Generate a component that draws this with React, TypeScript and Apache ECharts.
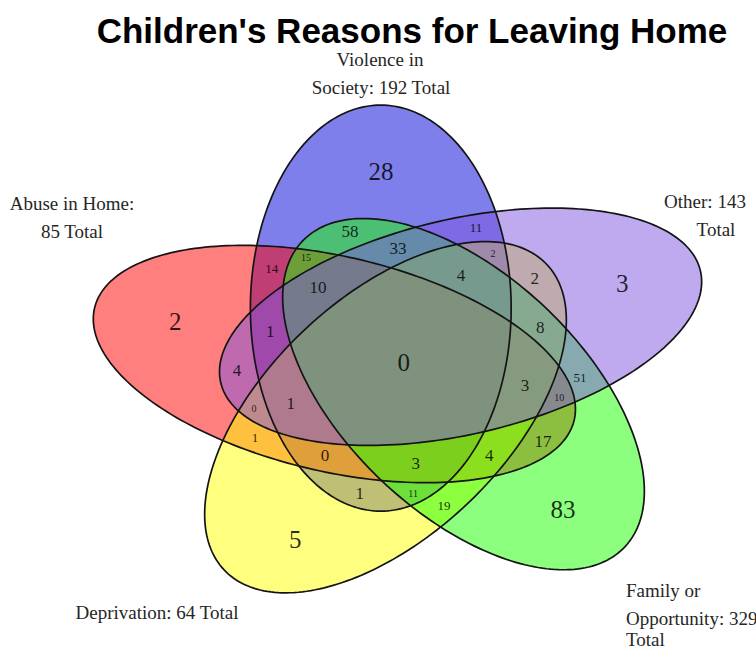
import React, { useEffect, useRef } from "react";
import * as echarts from "echarts";

// ---- data ----
const titleText = "Children's Reasons for Leaving Home";
const setNames = ["Violence in Society", "Abuse in Home", "Deprivation", "Family or Opportunity", "Other"];
const setTotals = [192, 85, 64, 329, 143];
const setColors = ["#0000d8", "#ff0000", "#ffff00", "#1aff00", "#7f55e0"];

// ellipse geometry (Venn units, 0..1 box)
const ellipseCenterX = [0.4555, 0.3701, 0.4642, 0.6078, 0.6024];
const ellipseCenterY = [0.6222, 0.4955, 0.375, 0.4273, 0.58];
const ellipseRotation = [90, 162, 54, -54, 18];
const ellipseSemiMajor = 0.46;
const ellipseSemiMinor = 0.24;

// region counts
const regionCounts = [28, 58, 11, 14, 15, 33, 2, 4, 2, 10, 3, 2, 1, 8, 0, 4, 51, 3, 10, 1, 0, 1, 17, 0, 4, 3, 1, 11, 19, 83, 5];
// region label anchor positions (Venn units)
const regionX = [0.456, 0.399, 0.631, 0.255, 0.318, 0.487, 0.662, 0.603, 0.739, 0.34, 0.9, 0.077, 0.252, 0.749, 0.498, 0.191, 0.822, 0.721, 0.784, 0.29, 0.222, 0.224, 0.754, 0.353, 0.655, 0.52, 0.417, 0.515, 0.572, 0.791, 0.298];
const regionY = [0.931, 0.795, 0.804, 0.713, 0.736, 0.758, 0.747, 0.695, 0.69, 0.668, 0.677, 0.591, 0.57, 0.579, 0.498, 0.48, 0.466, 0.446, 0.419, 0.405, 0.394, 0.33, 0.321, 0.289, 0.289, 0.271, 0.203, 0.203, 0.176, 0.165, 0.097];

// ---- styles ----
const SIZE = { L: 25, M: 17, S: 13, T: 10 };
const regionSizeClass = ["L", "M", "S", "S", "T", "M", "T", "M", "M", "M", "L", "L", "M", "M", "L", "M", "S", "M", "T", "M", "T", "S", "M", "M", "M", "M", "M", "T", "S", "L", "L"];

function hexToRgba(hex: string, a: number) {
  const n = parseInt(hex.slice(1), 16);
  return `rgba(${(n >> 16) & 255},${(n >> 8) & 255},${n & 255},${a})`;
}

export default function App() {
  const ref = useRef<HTMLDivElement>(null);
  useEffect(() => {
    if (!ref.current) return;
    const chart = echarts.init(ref.current, null, { renderer: "svg" });

    const ellipseData = ellipseCenterX.map((x, i) => [x, ellipseCenterY[i], ellipseRotation[i], i]);

    const makeEllipse = (filled: boolean) => (params: any, api: any) => {
      const cx = api.value(0);
      const cy = api.value(1);
      const rot = (api.value(2) * Math.PI) / 180;
      const idx = api.value(3);
      const pts: number[][] = [];
      const N = 240;
      for (let k = 0; k < N; k++) {
        const t = (k / N) * Math.PI * 2;
        const ex = ellipseSemiMajor * Math.cos(t);
        const ey = ellipseSemiMinor * Math.sin(t);
        const x = cx + ex * Math.cos(rot) - ey * Math.sin(rot);
        const y = cy + ex * Math.sin(rot) + ey * Math.cos(rot);
        pts.push(api.coord([x, y]));
      }
      return {
        type: "polygon",
        shape: { points: pts },
        style: filled
          ? { fill: hexToRgba(setColors[idx], 0.5), stroke: null }
          : { fill: null, stroke: "#141414", lineWidth: 1.7 },
        silent: true,
      };
    };

    const labelData = regionCounts.map((c, i) => [regionX[i], regionY[i], c, SIZE[regionSizeClass[i] as keyof typeof SIZE]]);

    const catFont = { fontFamily: "Liberation Serif", fontSize: 19, fill: "#262626" };
    const catLines: { text: string; x: number; y: number; align: string }[] = [
      { text: "Violence in", x: 380, y: 59, align: "center" },
      { text: `Society: ${setTotals[0]} Total`, x: 381, y: 87, align: "center" },
      { text: "Abuse in Home:", x: 72, y: 203, align: "center" },
      { text: `${setTotals[1]} Total`, x: 72, y: 231, align: "center" },
      { text: `${setNames[2]}: ${setTotals[2]} Total`, x: 157, y: 612, align: "center" },
      { text: "Family or", x: 626, y: 590, align: "left" },
      { text: `Opportunity: ${setTotals[3]}`, x: 626, y: 618, align: "left" },
      { text: "Total", x: 626, y: 639, align: "left" },
      { text: `${setNames[4]}: ${setTotals[4]}`, x: 705, y: 201, align: "center" },
      { text: "Total", x: 716, y: 229, align: "center" },
    ];

    chart.setOption({
      animation: false,
      backgroundColor: "#ffffff",
      grid: { left: 133.3, top: 141.4, width: 543.3, height: 441.3 },
      xAxis: { type: "value", min: 0, max: 1, show: false },
      yAxis: { type: "value", min: 0, max: 1, show: false },
      graphic: [
        {
          type: "text",
          x: 412,
          y: 30,
          style: {
            text: titleText,
            fontFamily: "Liberation Sans",
            fontWeight: "bold",
            fontSize: 35,
            fill: "#000",
            align: "center",
            verticalAlign: "middle",
          },
        },
        ...catLines.map((l) => ({
          type: "text",
          x: l.x,
          y: l.y,
          style: { ...catFont, text: l.text, align: l.align, verticalAlign: "middle" },
        })),
      ],
      series: [
        {
          type: "custom",
          coordinateSystem: "cartesian2d",
          clip: false,
          z: 2,
          data: ellipseData,
          renderItem: makeEllipse(true),
        },
        {
          type: "custom",
          coordinateSystem: "cartesian2d",
          clip: false,
          z: 3,
          data: ellipseData,
          renderItem: makeEllipse(false),
        },
        {
          type: "custom",
          coordinateSystem: "cartesian2d",
          clip: false,
          z: 4,
          data: labelData,
          renderItem: (params: any, api: any) => {
            const p = api.coord([api.value(0), api.value(1)]);
            return {
              type: "text",
              x: p[0],
              y: p[1],
              style: {
                text: String(api.value(2)),
                fontFamily: "Liberation Serif",
                fontSize: api.value(3),
                fill: "rgba(0,0,0,0.82)",
                align: "center",
                verticalAlign: "middle",
              },
            };
          },
        },
      ],
    });
    return () => chart.dispose();
  }, []);
  return <div ref={ref} style={{ position: "fixed", left: 0, top: 0, width: 756, height: 651 }} />;
}
